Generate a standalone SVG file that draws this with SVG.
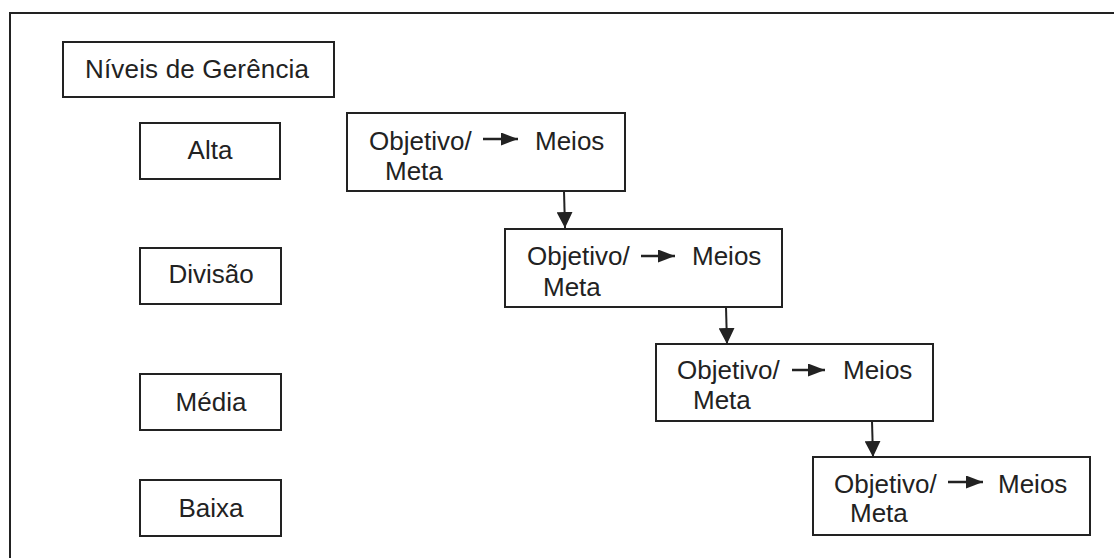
<svg xmlns="http://www.w3.org/2000/svg" width="1114" height="558" viewBox="0 0 1114 558">
<defs>
<style>
.box{fill:#fff;stroke:#222;stroke-width:2}
.t{font-family:"Liberation Sans",Arial,sans-serif;font-size:26px;fill:#222}
.c{stroke:#222;stroke-width:2;fill:none}
.a{stroke:#222;stroke-width:2.5;fill:none}
</style>
<marker id="ah" markerUnits="userSpaceOnUse" markerWidth="16" markerHeight="16" refX="16" refY="8" orient="auto"><path d="M0,0 L16,8 L0,16 z" fill="#222"/></marker>
<marker id="ahs" markerUnits="userSpaceOnUse" markerWidth="17" markerHeight="13" refX="17" refY="6.5" orient="auto"><path d="M0,0 L17,6.5 L0,13 z" fill="#222"/></marker>
</defs>
<rect width="1114" height="558" fill="#fff"/>
<path d="M10,558 V13 H1114" class="c"/>
<g id="niveis"><rect class="box" x="63" y="42" width="271" height="55"/><text class="t" x="85" y="78" textLength="224" lengthAdjust="spacing">Níveis de Gerência</text></g>
<g id="alta"><rect class="box" x="140" y="123" width="140" height="56"/><text class="t" x="210" y="159" text-anchor="middle">Alta</text></g>
<g id="divisao"><rect class="box" x="140" y="248" width="141" height="56"/><text class="t" x="211" y="283" text-anchor="middle">Divisão</text></g>
<g id="media"><rect class="box" x="140" y="374" width="141" height="56"/><text class="t" x="211" y="411" text-anchor="middle">Média</text></g>
<g id="baixa"><rect class="box" x="140" y="480" width="141" height="56"/><text class="t" x="211" y="517" text-anchor="middle">Baixa</text></g>
<g id="obj1"><rect class="box" x="347" y="113" width="278" height="78"/><text class="t" x="369" y="150">Objetivo/</text><text class="t" x="385" y="180">Meta</text><line class="a" x1="483" y1="139" x2="518" y2="139" marker-end="url(#ahs)"/><text class="t" x="535" y="150">Meios</text></g>
<g id="obj2"><rect class="box" x="505" y="229" width="277" height="78"/><text class="t" x="527" y="265">Objetivo/</text><text class="t" x="543" y="296">Meta</text><line class="a" x1="641" y1="256" x2="675" y2="256" marker-end="url(#ahs)"/><text class="t" x="692" y="265">Meios</text></g>
<g id="obj3"><rect class="box" x="656" y="344" width="277" height="77"/><text class="t" x="677" y="379">Objetivo/</text><text class="t" x="693" y="409">Meta</text><line class="a" x1="792" y1="370" x2="825" y2="370" marker-end="url(#ahs)"/><text class="t" x="843" y="379">Meios</text></g>
<g id="obj4"><rect class="box" x="813" y="457" width="277" height="78"/><text class="t" x="834" y="493">Objetivo/</text><text class="t" x="850" y="522">Meta</text><line class="a" x1="948" y1="482" x2="983" y2="482" marker-end="url(#ahs)"/><text class="t" x="998" y="493">Meios</text></g>
<g id="connectors">
<line class="c" x1="564" y1="191" x2="565" y2="228" marker-end="url(#ah)"/>
<line class="c" x1="726" y1="307" x2="727" y2="344" marker-end="url(#ah)"/>
<line class="c" x1="872" y1="421" x2="873" y2="457" marker-end="url(#ah)"/>
</g>
</svg>
